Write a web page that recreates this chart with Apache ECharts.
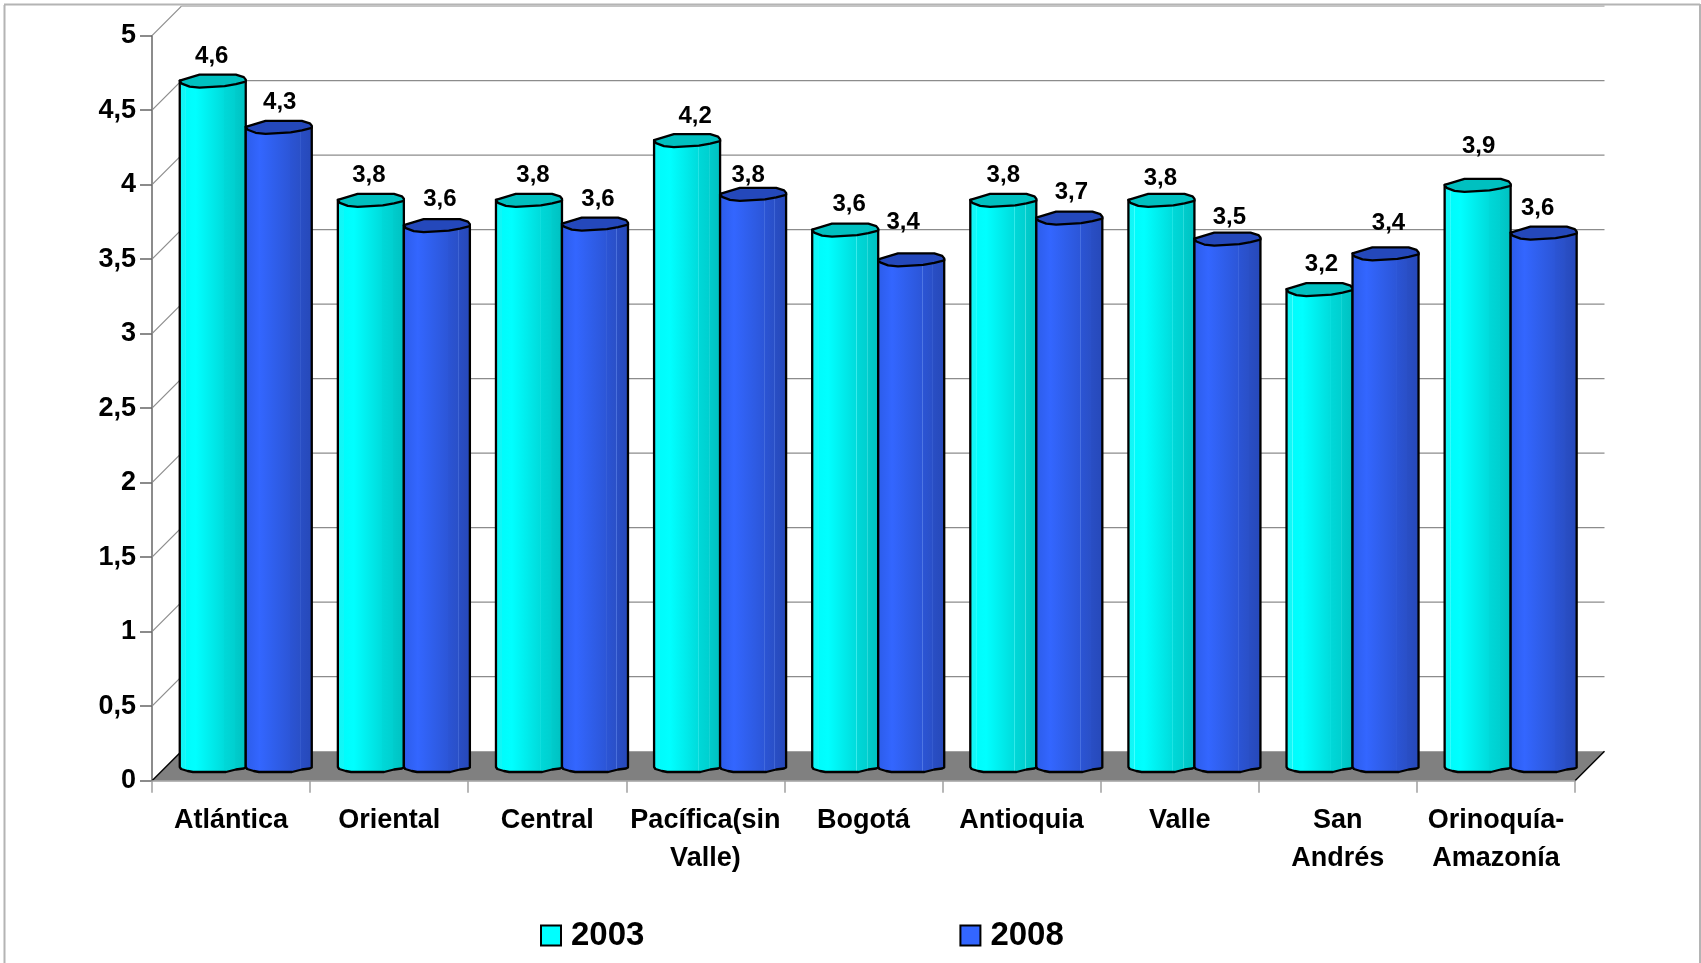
<!DOCTYPE html>
<html><head><meta charset="utf-8">
<style>html,body{margin:0;padding:0;background:#fff}#c{width:1701px;height:963px}</style>
<script src="https://cdn.jsdelivr.net/npm/echarts@6/dist/echarts.min.js"></script>
</head><body><div id="c"></div>
<script>
const categories = ['Atlántica','Oriental','Central','Pacífica(sin\nValle)','Bogotá','Antioquia','Valle','San\nAndrés','Orinoquía-\nAmazonía'];
const values2003 = [4.60,3.80,3.80,4.20,3.60,3.80,3.80,3.20,3.90];
const values2008 = [4.29,3.63,3.64,3.84,3.40,3.68,3.54,3.44,3.58];
const yTicks = [0,0.5,1,1.5,2,2.5,3,3.5,4,4.5,5];
const seriesNames = ['2003','2008'];
const labelNudge = {
  '2003': [[-1,2],[-2,2],[4,2],[8,2],[4,1],[0,2],[-1,5],[2,1],[1,-13]],
  '2008': [[1,2],[3,0],[3,2],[-5,8],[-8,-11],[2,1],[2,5],[3,-4],[-6,2]]
};

const FONT = '"Liberation Sans", Arial, sans-serif';
const DEPTH = 29.5, MID = 14.7;
const comma = v => String(v).replace('.', ',');

const topUpper = [[0,0],[.1,-2],[.3,-6],[.85,-6],[.97,-3.5],[1,-1]];
const topLower = [[1,1],[.85,3.5],[.68,5.5],[.3,7],[.15,6],[.03,3],[0,0]];
const botLower = [[1,1.5],[.97,2.5],[.85,3.5],[.7,6],[.2,6],[.12,5],[.02,3],[0,1]];

const palette = {
  '2003': {top:'#00c0c0', legend:'#00ffff', stops:[
    [0,'#14f4f4'],[.1,'#10f8f8'],[.105,'#50ffff'],[.11,'#00fcfc'],[.25,'#00ffff'],[.45,'#00eeee'],[.66,'#00dcdc'],[.665,'#40eeee'],[.67,'#00d8d8'],[.82,'#00d0d0'],[.825,'#40e0e0'],[.83,'#00cccc'],[1,'#00c0c0']]},
  '2008': {top:'#2448bb', legend:'#3366ff', stops:[
    [0,'#2c5ce8'],[.22,'#3366ff'],[.45,'#2f5eea'],[.66,'#2c56d8'],[.665,'#5078e4'],[.67,'#2b54d4'],[.81,'#2a50c8'],[.815,'#4a70dc'],[.82,'#294ec4'],[1,'#2648b8']]}
};

function barItem(name, side){
  const pal = palette[name];
  return function(params, api){
    const idx = api.value(0), val = api.value(1);
    const catW = api.size([1,0])[0];
    const w = catW * 0.4175;
    const topC = api.coord([idx, val]);
    const baseC = api.coord([idx, 0]);
    const x0 = topC[0] + MID + (side === 0 ? -w : 0);
    const yT = topC[1] - MID, yB = baseC[1] - MID;
    const map = (arr, y) => arr.map(p => [x0 + p[0]*w, y + p[1]]);
    const bodyPts = [[x0,yT],[x0,yB]].concat(map(botLower.slice().reverse(), yB)).concat([[x0+w,yT]]);
    const topPts = map(topUpper.concat(topLower), yT);
    const n = labelNudge[name][idx];
    return {type:'group', children:[
      {type:'polygon', shape:{points:bodyPts}, style:{
        fill:new echarts.graphic.LinearGradient(0,0,1,0,pal.stops.map(s=>({offset:s[0],color:s[1]}))),
        stroke:'#000', lineWidth:2.3, lineJoin:'round'}},
      {type:'polygon', shape:{points:topPts}, style:{fill:pal.top, stroke:'#000', lineWidth:2.3, lineJoin:'round'}},
      {type:'text', x:x0+w/2+n[0], y:yT-26+n[1], style:{text:comma(val.toFixed(1)), font:'bold 24px '+FONT, fill:'#000', align:'center', verticalAlign:'middle'}}
    ]};
  };
}

function backdropItem(params, api){
  const v = api.value(0);
  const cs = params.coordSys;
  const left = cs.x, right = cs.x + cs.width;
  const y = api.coord([0, v])[1];
  const kids = [];
  if (v === 0) {
    kids.push({type:'polygon', shape:{points:[[left,y],[left+DEPTH,y-DEPTH],[right+DEPTH,y-DEPTH],[right,y]]}, style:{fill:'#808080', stroke:null}});
    kids.push({type:'line', shape:{x1:left,y1:y,x2:left+DEPTH,y2:y-DEPTH}, style:{stroke:'#000',lineWidth:1.5}});
    kids.push({type:'line', shape:{x1:right,y1:y,x2:right+DEPTH,y2:y-DEPTH}, style:{stroke:'#000',lineWidth:1.5}});
  } else {
    kids.push({type:'line', shape:{x1:left,y1:y,x2:left+DEPTH,y2:y-DEPTH}, style:{stroke:'#8c8c8c',lineWidth:1.2}});
    kids.push({type:'line', shape:{x1:left+DEPTH,y1:y-DEPTH,x2:right+DEPTH,y2:y-DEPTH}, style:{stroke: v===5?'#b0b0b0':'#8c8c8c',lineWidth:1.2}});
  }
  return {type:'group', children:kids};
}

const chart = echarts.init(document.getElementById('c'), null, {renderer:'canvas'});
chart.setOption({
  animation:false,
  backgroundColor:'#fff',
  graphic:[
    {type:'line', z:0, shape:{x1:4.5,y1:5,x2:4.5,y2:963}, style:{stroke:'#b4b4b4',lineWidth:2}},
    {type:'line', z:0, shape:{x1:4,y1:4.5,x2:1700,y2:4.5}, style:{stroke:'#b4b4b4',lineWidth:2}},
    {type:'line', z:0, shape:{x1:1700,y1:4,x2:1700,y2:963}, style:{stroke:'#b4b4b4',lineWidth:2}}
  ],
  grid:{left:152, top:35.7, width:1423, height:745, containLabel:false},
  xAxis:{type:'category', data:categories, z:5,
    axisLine:{show:true, onZero:false, lineStyle:{color:'#a0a0a0',width:1.5}},
    axisTick:{show:true, length:12, alignWithLabel:false, lineStyle:{color:'#a0a0a0',width:1.5}},
    axisLabel:{interval:0, margin:21, color:'#000', fontFamily:FONT, fontWeight:'bold', fontSize:27, lineHeight:38},
    splitLine:{show:false}},
  yAxis:{type:'value', min:0, max:5, interval:0.5,
    axisLine:{show:true, lineStyle:{color:'#666',width:1.5}},
    axisTick:{show:true, length:12, lineStyle:{color:'#666',width:1.5}},
    axisLabel:{margin:16, color:'#000', fontFamily:FONT, fontWeight:'bold', fontSize:27, padding:[4,0,0,0], formatter:comma},
    splitLine:{show:false}},
  legend:{left:535, top:914, itemWidth:20, itemHeight:20, itemGap:315, icon:'rect',
    selectedMode:false,
    textStyle:{color:'#000', fontFamily:FONT, fontWeight:'bold', fontSize:33, padding:[0,0,0,5]},
    data:seriesNames.map(n=>({name:n, icon:'rect', itemStyle:{color:palette[n].legend, borderColor:'#000', borderWidth:2}}))},
  series:[
    {type:'custom', name:'grid', silent:true, z:1, coordinateSystem:'cartesian2d', renderItem:backdropItem,
      encode:{y:0}, data:yTicks.map(v=>[v])},
    {type:'custom', name:'2003', z:2, renderItem:barItem('2003',0), encode:{x:0,y:1},
      itemStyle:{color:palette['2003'].legend}, data:values2003.map((v,i)=>[i,v])},
    {type:'custom', name:'2008', z:3, renderItem:barItem('2008',1), encode:{x:0,y:1},
      itemStyle:{color:palette['2008'].legend}, data:values2008.map((v,i)=>[i,v])}
  ]
});
</script></body></html>
